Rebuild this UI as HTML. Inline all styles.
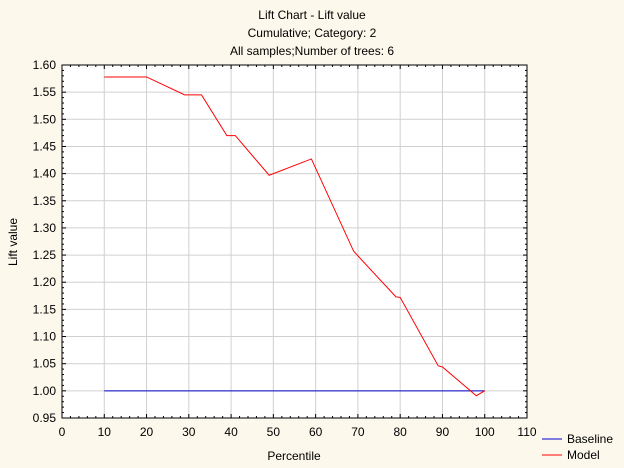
<!DOCTYPE html>
<html><head><meta charset="utf-8"><style>
body{margin:0;background:#fdf8ec;}
svg{display:block;font-family:"Liberation Sans",Arial,sans-serif;}
</style></head><body>
<svg id="chart" width="624" height="468">
<rect x="0" y="0" width="624" height="468" fill="#fdf8ec"/>
<text x="312" y="19" text-anchor="middle" font-size="12">Lift Chart - Lift value</text>
<text x="312" y="37" text-anchor="middle" font-size="12">Cumulative; Category: 2</text>
<text x="312" y="55" text-anchor="middle" font-size="12">All samples;Number of trees: 6</text>
<rect x="62" y="65" width="465" height="353" fill="#fff"/>
<g id="grid"></g><g id="ticks"></g><g id="series"></g>
<rect x="62" y="65" width="465" height="353" fill="none" stroke="#000" stroke-width="1"/>
<text x="294" y="460" text-anchor="middle" font-size="12">Percentile</text>
<text x="17" y="242" text-anchor="middle" font-size="12" transform="rotate(-90 17 242)">Lift value</text>
<g>
<line x1="542" y1="439" x2="562" y2="439" stroke="#0000cc"/>
<text x="567" y="443" font-size="12">Baseline</text>
<line x1="542" y1="455" x2="562" y2="455" stroke="#ff0000"/>
<text x="567" y="459" font-size="12">Model</text>
</g>
</svg>
<script>
const xTicks=[0,10,20,30,40,50,60,70,80,90,100,110];
const yTicks=[0.95,1.00,1.05,1.10,1.15,1.20,1.25,1.30,1.35,1.40,1.45,1.50,1.55,1.60];
const modelX=[10,20,29,33,39,41,49,59,69,79,80,89,90,98,100];
const modelY=[1.578,1.578,1.545,1.545,1.470,1.470,1.397,1.427,1.257,1.173,1.172,1.046,1.044,0.991,1.0];
const baseX=[10,100];
const baseY=[1.0,1.0];
const L=62,R=527,T=65,B=418;
const sx=v=>L+(v-0)/(110-0)*(R-L);
const sy=v=>B-(v-0.95)/(1.60-0.95)*(B-T);
const NS='http://www.w3.org/2000/svg';
function mk(tag,attrs,parent){const e=document.createElementNS(NS,tag);for(const k in attrs)e.setAttribute(k,attrs[k]);parent.appendChild(e);return e;}
const grid=document.getElementById('grid'),ticks=document.getElementById('ticks'),series=document.getElementById('series');
xTicks.forEach(t=>{const x=sx(t);
 if(t>0&&t<110){const g=mk('line',{x1:x,x2:x,y1:T,y2:B,stroke:'#d0d0d0'},grid);
 
 }
 mk('line',{x1:x,x2:x,y1:B,y2:B-4,stroke:'#000'},ticks);
 mk('line',{x1:x,x2:x,y1:T,y2:T+4,stroke:'#000'},ticks);
 for(let m=1;m<5&&t<110;m++){const xm=sx(t+m*2);mk('line',{x1:xm,x2:xm,y1:B,y2:B-2,stroke:'#000'},ticks);mk('line',{x1:xm,x2:xm,y1:T,y2:T+2,stroke:'#000'},ticks);}
 const lb=mk('text',{x:x,y:B+18,'text-anchor':'middle','font-size':12},ticks);lb.textContent=t;
 
 
});
yTicks.forEach((t,i)=>{const y=sy(t);
 if(t>0.95&&t<1.6){const g=mk('line',{x1:L,x2:R,y1:y,y2:y,stroke:'#d0d0d0'},grid);
 
 }
 mk('line',{x1:L,x2:L+4,y1:y,y2:y,stroke:'#000'},ticks);
 mk('line',{x1:R-4,x2:R,y1:y,y2:y,stroke:'#000'},ticks);
 if(i<yTicks.length-1)for(let m=1;m<5;m++){const ym=sy(t+m*0.01);mk('line',{x1:L,x2:L+2,y1:ym,y2:ym,stroke:'#000'},ticks);mk('line',{x1:R-2,x2:R,y1:ym,y2:ym,stroke:'#000'},ticks);}
 const lb=mk('text',{x:L-6,y:y+4,'text-anchor':'end','font-size':12},ticks);lb.textContent=t.toFixed(2);
 
 
});
const bl=mk('polyline',{points:baseX.map((v,i)=>sx(v)+','+sy(baseY[i])).join(' '),fill:'none',stroke:'#0000cc','stroke-width':1},series);


const ml=mk('polyline',{points:modelX.map((v,i)=>sx(v)+','+sy(modelY[i])).join(' '),fill:'none',stroke:'#ff0000','stroke-width':1},series);


</script>
</body></html>
